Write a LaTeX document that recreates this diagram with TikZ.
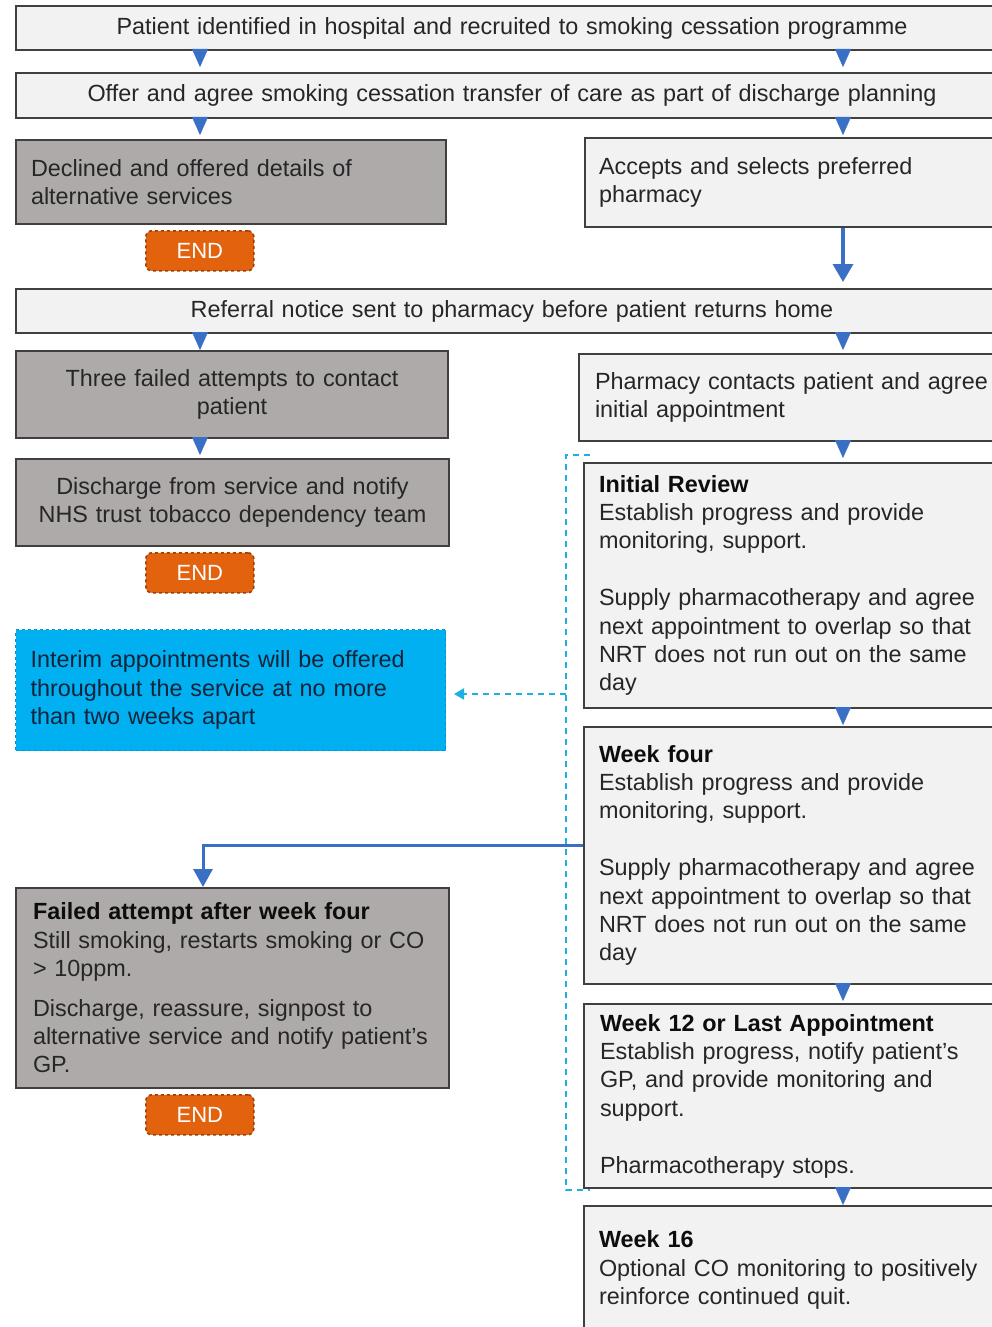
\documentclass[tikz,border=0pt]{standalone}
\usepackage{fontspec}
\setmainfont{Liberation Sans}
\usetikzlibrary{arrows.meta}
\definecolor{lightfill}{HTML}{F2F2F2}
\definecolor{grayfill}{HTML}{AEAAAA}
\definecolor{boxline}{HTML}{404040}
\definecolor{endfill}{HTML}{E2620E}
\definecolor{endline}{HTML}{9C3F0A}
\definecolor{notefill}{HTML}{00B0F0}
\definecolor{noteline}{HTML}{0092D4}
\definecolor{notetext}{HTML}{10233A}
\definecolor{triblue}{HTML}{3A6FC6}
\definecolor{brkcyan}{HTML}{1FB0E2}
\definecolor{txt}{HTML}{262626}
\definecolor{headtxt}{HTML}{0D0D0D}
\newcommand{\hd}[1]{\textbf{\color{headtxt}#1}}
\hyphenpenalty=10000
\exhyphenpenalty=10000
\begin{document}
\begin{tikzpicture}[x=1pt,y=-1pt,
  every node/.style={font=\fontsize{23.4}{28.4}\selectfont, text=txt},
  basebox/.style={draw=boxline, line width=2pt, inner xsep=14pt, inner ysep=0pt, anchor=north west, rectangle},
  lightbox/.style={basebox, fill=lightfill},
  graybox/.style={basebox, fill=grayfill},
  endbox/.style={rectangle, rounded corners=6pt, fill=endfill, draw=endline, dashed, line width=1.6pt,
     minimum width=108pt, minimum height=40pt, inner sep=0pt, anchor=north west, text=white,
     font=\fontsize{22}{26}\selectfont},
  notebox/.style={rectangle, fill=notefill, draw=noteline, dashed, line width=1pt, anchor=north west,
     inner xsep=15pt, inner ysep=0pt, text=notetext, align=left},
  tri/.style={draw=triblue, fill=triblue, line width=0.4pt, -{Triangle[width=16pt,length=18pt]}, shorten >=#1},
  bigarrow/.style={draw=triblue, line width=3.5pt, -{Triangle[width=20pt,length=18pt]}, shorten >=#1},
  elbow/.style={draw=triblue, line width=3pt, -{Triangle[width=19pt,length=18pt]}},
  bracket/.style={draw=brkcyan, line width=2pt, dash pattern=on 6pt off 5pt},
  dasharrow/.style={draw=brkcyan, line width=2pt, dash pattern=on 6pt off 5pt, -{Triangle[width=11pt,length=10pt]}, shorten >=#1}
]
\useasboundingbox (0,0) rectangle (992,1327);
\fill[white] (0,0) rectangle (992,1327);
\clip (0,0) rectangle (992,1327);

\coordinate (L) at (200,0);
\coordinate (R) at (843,0);

% top full-width boxes
\node[lightbox, minimum width=992pt, minimum height=44pt, text width=964pt, align=center] (b1) at (15,5)
  {Patient identified in hospital and recruited to smoking cessation programme};
\node[lightbox, minimum width=992pt, minimum height=45pt, text width=964pt, align=center] (b2) at (15,72)
  {Offer and agree smoking cessation transfer of care as part of discharge planning};

\node[graybox, inner xsep=15pt, minimum width=430pt, minimum height=84pt, text width=400pt, align=left] (declined) at (15,139)
  {Declined and offered details of\\alternative services};
\node[endbox] (end1) at (145,230) {END};

\node[lightbox, minimum width=450pt, minimum height=89pt, text width=422pt, align=left] (accepts) at (584,137)
  {Accepts and selects preferred\\pharmacy};

\node[lightbox, minimum width=992pt, minimum height=44pt, text width=964pt, align=center] (referral) at (15,288)
  {Referral notice sent to pharmacy before patient returns home};

\node[graybox, minimum width=432pt, minimum height=87pt, text width=404pt, align=center] (three) at (15,350)
  {Three failed attempts to contact\\patient};
\node[lightbox, inner xsep=16pt, minimum width=450pt, minimum height=87pt, text width=418pt, align=left] (pharm) at (578,353)
  {Pharmacy contacts patient and agree\\initial appointment};

\node[graybox, minimum width=433pt, minimum height=87pt, text width=405pt, align=center] (discharge) at (15,458)
  {Discharge from service and notify\\NHS trust tobacco dependency team};
\node[endbox] (end2) at (145,552) {END};

\node[notebox, minimum width=430pt, minimum height=121pt, text width=400pt] (interim) at (15,629)
  {Interim appointments will be offered\\throughout the service at no more\\than two weeks apart};

\node[lightbox, inner xsep=15pt, minimum width=450pt, minimum height=245pt, text width=420pt, align=left] (initial) at (583,462)
  {\hd{Initial Review}\\Establish progress and provide\\monitoring, support.\\[28.4pt]Supply pharmacotherapy and agree\\next appointment to overlap so that\\NRT does not run out on the same\\day};

\node[lightbox, inner xsep=15pt, minimum width=450pt, minimum height=257pt, text width=420pt, align=left] (week4) at (583,726)
  {\hd{Week four}\\Establish progress and provide\\monitoring, support.\\[28.4pt]Supply pharmacotherapy and agree\\next appointment to overlap so that\\NRT does not run out on the same\\day};

\node[graybox, inner xsep=17pt, minimum width=433pt, minimum height=200pt, text width=399pt, align=left] (failed) at (15,887)
  {\hd{Failed attempt after week four}\\Still smoking, restarts smoking or CO\\> 10ppm.\\[11pt]Discharge, reassure, signpost to\\alternative service and notify patient’s\\GP.};
\node[endbox] (end3) at (145,1094) {END};

\node[lightbox, inner xsep=16pt, minimum width=450pt, minimum height=184pt, text width=418pt, align=left] (week12) at (583,1003)
  {\hd{Week 12 or Last Appointment}\\Establish progress, notify patient’s\\GP, and provide monitoring and\\support.\\[28.4pt]Pharmacotherapy stops.};

\node[lightbox, inner xsep=15pt, minimum width=450pt, minimum height=128pt, text width=420pt, align=left] (week16) at (583,1205)
  {\hd{Week 16}\\Optional CO monitoring to positively\\reinforce continued quit.};

% small triangle connectors
\draw[tri=5pt] (L |- b1.south) -- (L |- b2.north);
\draw[tri=5pt] (R |- b1.south) -- (R |- b2.north);
\draw[tri=4pt] (L |- b2.south) -- (L |- declined.north);
\draw[tri=2pt] (R |- b2.south) -- (R |- accepts.north);
\draw[bigarrow=6pt] (R |- accepts.south) -- (R |- referral.north);
\draw[tri=0pt] (L |- referral.south) -- (L |- three.north);
\draw[tri=3pt] (R |- referral.south) -- (R |- pharm.north);
\draw[tri=3pt] (L |- three.south) -- (L |- discharge.north);
\draw[tri=4pt] (R |- pharm.south) -- (R |- initial.north);
\draw[tri=1pt] (R |- initial.south) -- (R |- week4.north);
\draw[tri=2pt] (R |- week4.south) -- (R |- week12.north);
\draw[tri=0pt] (R |- week12.south) -- (R |- week16.north);

% elbow connector week four -> failed
\coordinate (FL) at (203,0);
\draw[elbow] ([yshift=10.5pt]week4.west) -| (FL |- failed.north);

% dashed bracket and arrow to interim note
\draw[bracket] (590,455) -- (566,455) -- (566,1190) -- (590,1190);
\coordinate (brk) at (566,694);
\draw[dasharrow=8pt] (brk) -- (interim.east |- brk);
\end{tikzpicture}
\end{document}
